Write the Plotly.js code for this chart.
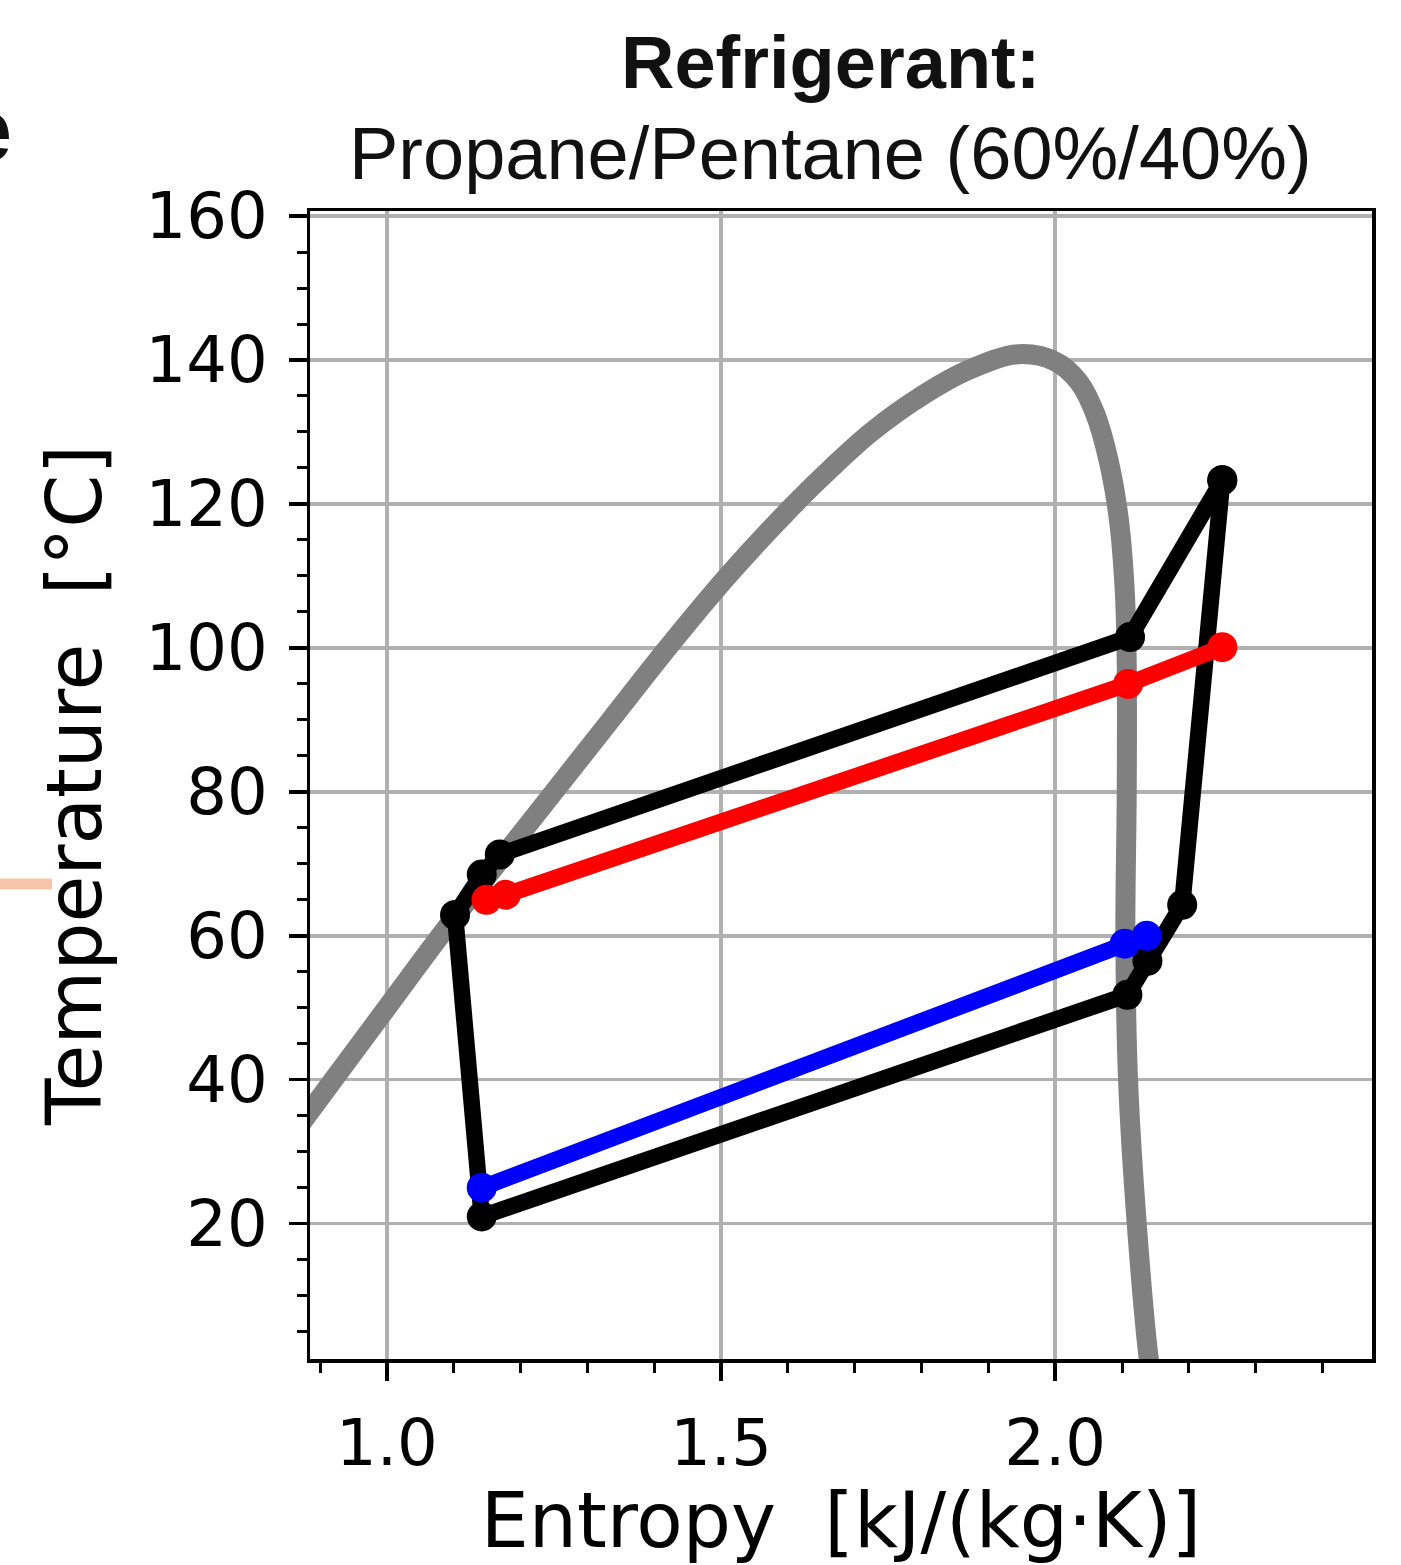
<!DOCTYPE html>
<html>
<head>
<meta charset="utf-8">
<script src="https://cdn.plot.ly/plotly-3.0.1.min.js"></script>
<style>
  html, body { margin: 0; padding: 0; background: #ffffff; }
  #chart { width: 1401px; height: 1565px; }
</style>
</head>
<body>
<div id="chart"></div>
<script>
// Saturation dome (gray)
const domeS = [0.87, 0.92, 1.0, 1.08, 1.165, 1.25, 1.335, 1.42, 1.51, 1.61, 1.665, 1.725, 1.80, 1.87, 1.945, 2.0, 2.035, 2.06, 2.08, 2.095, 2.104, 2.107, 2.107, 2.105, 2.109, 2.122, 2.14, 2.142];
const domeT = [33.7, 40, 50, 60, 70, 80, 90, 100, 110, 120, 125, 130, 135, 138.6, 140.8, 139.8, 137, 132.5, 126, 118, 108, 98, 80, 60, 40, 20, 1.2, 0];

// Refrigerant cycle (black)
const cycleS = [2.25, 2.112, 1.169, 1.142, 1.102, 1.142, 2.108, 2.138, 2.19, 2.25];
const cycleT = [123.3, 101.5, 71.3, 68.5, 62.9, 21.0, 51.8, 56.5, 64.3, 123.3];

// Sink stream (red)
const sinkS = [1.149, 1.178, 2.109, 2.25];
const sinkT = [65.0, 65.7, 95.0, 100.1];

// Source stream (blue)
const sourceS = [1.142, 2.104, 2.137];
const sourceT = [25.0, 58.9, 60.0];

const xTicks = [1.0, 1.5, 2.0];
const xTickText = ['1.0', '1.5', '2.0'];
const yTicks = [20, 40, 60, 80, 100, 120, 140, 160];

const traces = [
  { x: domeS, y: domeT, mode: 'lines', line: { color: '#808080', width: 20, shape: 'spline', smoothing: 1 }, hoverinfo: 'skip' },
  { x: cycleS, y: cycleT, mode: 'lines+markers', line: { color: '#000000', width: 16.5 }, marker: { color: '#000000', size: 30 } },
  { x: sinkS, y: sinkT, mode: 'lines+markers', line: { color: '#ff0000', width: 16.5 }, marker: { color: '#ff0000', size: 30 } },
  { x: sourceS, y: sourceT, mode: 'lines+markers', line: { color: '#0000ff', width: 16.5 }, marker: { color: '#0000ff', size: 30 } }
];

const L = 310, R = 29, T = 211, B = 206, W = 1401, H = 1565;
const pw = W - L - R, ph = H - T - B;
const px = v => (v - L) / pw;
const py = v => (H - B - v) / ph;

const axisCommon = {
  showline: true, linecolor: '#000000', linewidth: 3.5, mirror: true,
  ticks: 'outside', ticklen: 18, tickwidth: 3.5, tickcolor: '#000000',
  showgrid: true, gridcolor: '#b0b0b0', gridwidth: 3.5,
  zeroline: false,
  tickfont: { family: 'DejaVu Sans', size: 64, color: '#000000' }
};

const layout = {
  width: W, height: H,
  margin: { l: L, r: R, t: T, b: B, pad: 0 },
  paper_bgcolor: '#ffffff', plot_bgcolor: '#ffffff',
  showlegend: false,
  xaxis: Object.assign({}, axisCommon, {
    range: [0.885, 2.474],
    tickmode: 'array', tickvals: xTicks, ticktext: xTickText,
    ticklabelstandoff: 8,
    minor: { dtick: 0.1, tick0: 0.9, ticks: 'outside', ticklen: 10, tickwidth: 3, tickcolor: '#000000', showgrid: false },
    title: { text: 'Entropy\u00a0 [kJ/(kg·K)]', font: { family: 'DejaVu Sans', size: 76, color: '#000000' }, standoff: 20 }
  }),
  yaxis: Object.assign({}, axisCommon, {
    range: [1.2, 160.7],
    tickmode: 'array', tickvals: yTicks,
    ticklabelstandoff: 8,
    minor: { dtick: 5, tick0: 0, ticks: 'outside', ticklen: 10, tickwidth: 3, tickcolor: '#000000', showgrid: false },
    title: { text: 'Temperature\u00a0 [°C]', font: { family: 'DejaVu Sans', size: 76, color: '#000000' }, standoff: 20 }
  }),
  annotations: [
    { text: '<b>Refrigerant:</b>', xref: 'paper', yref: 'paper', x: px(830), y: py(62), xanchor: 'center', yanchor: 'middle', showarrow: false,
      font: { family: 'Liberation Sans, Arial', size: 74, color: '#111111' } },
    { text: 'Propane/Pentane (60%/40%)', xref: 'paper', yref: 'paper', x: px(830), y: py(153), xanchor: 'center', yanchor: 'middle', showarrow: false,
      font: { family: 'Liberation Sans, Arial', size: 74, color: '#111111' } },
    { text: '<b>e</b>', xref: 'paper', yref: 'paper', x: px(14), y: py(130), xanchor: 'right', yanchor: 'middle', showarrow: false,
      font: { family: 'Liberation Sans, Arial', size: 90, color: '#111111' } }
  ],
  shapes: [
    { type: 'line', xref: 'paper', yref: 'paper', x0: px(-5), x1: px(52), y0: py(884), y1: py(884),
      line: { color: '#f7c6aa', width: 11 } }
  ]
};

Plotly.newPlot('chart', traces, layout, { displayModeBar: false, staticPlot: true });
</script>
</body>
</html>
